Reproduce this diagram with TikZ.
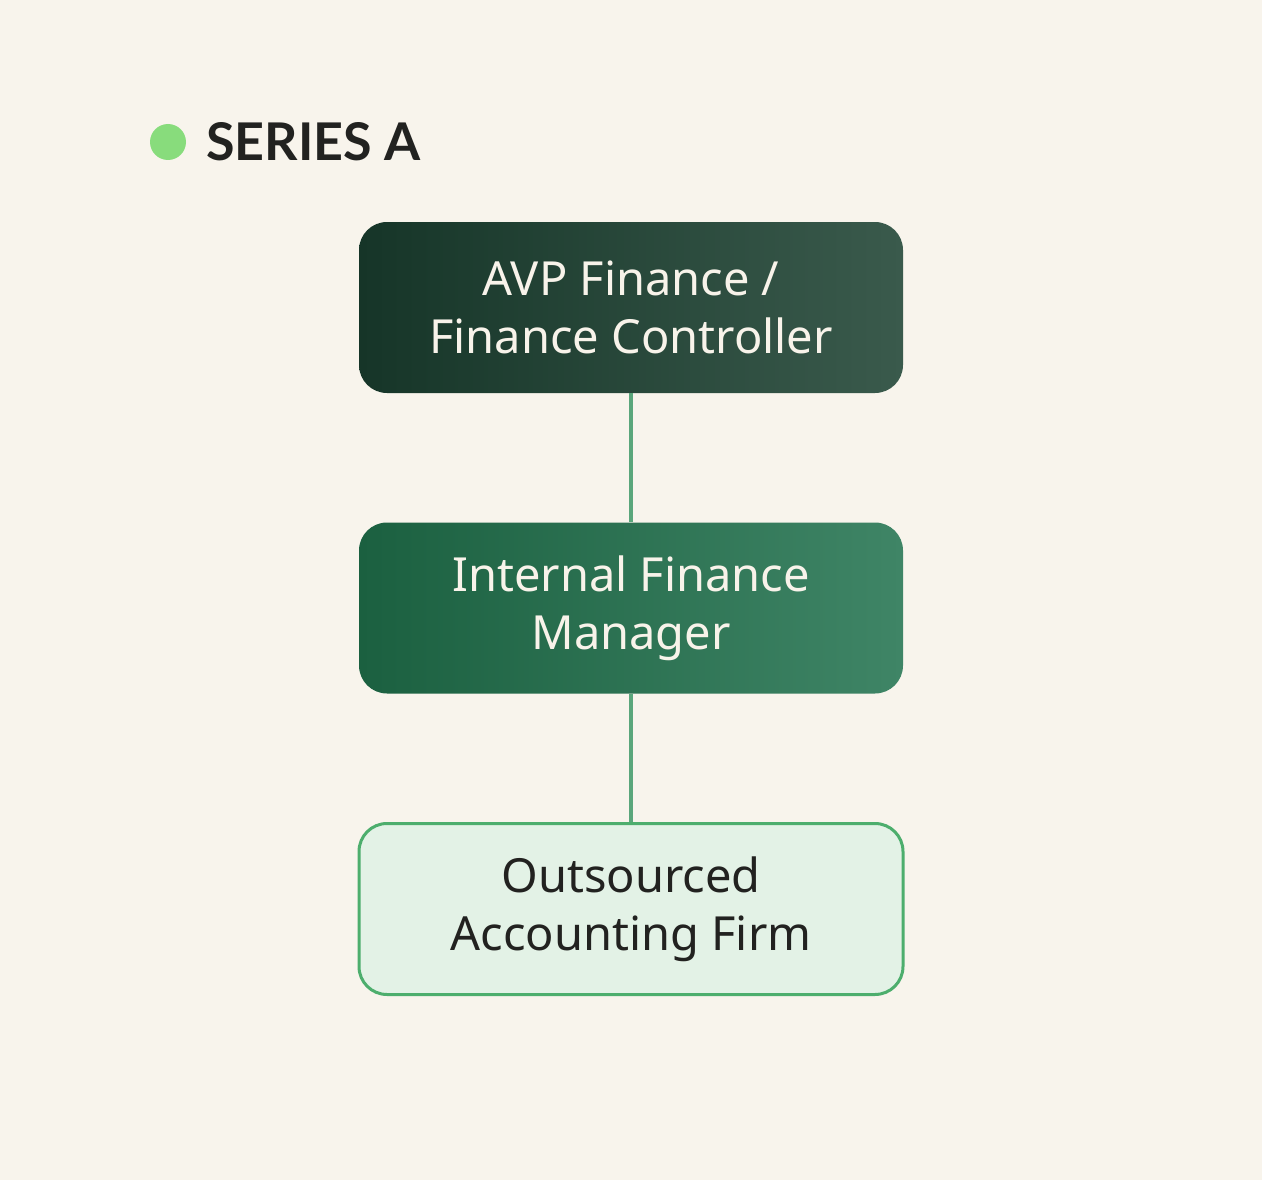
\documentclass[tikz,border=0pt]{standalone}
\usepackage{fontspec}
\setmainfont{Noto Sans}
\newfontfamily\titlefont{Lato}
\definecolor{bg}{HTML}{F8F4EC}
\definecolor{darkA}{HTML}{163528}
\definecolor{darkB}{HTML}{3A5A4C}
\definecolor{midA}{HTML}{1B6040}
\definecolor{midB}{HTML}{3F8566}
\definecolor{lightfill}{HTML}{E3F2E6}
\definecolor{lightedge}{HTML}{4DAE6D}
\definecolor{linkc}{HTML}{5AA67B}
\definecolor{cream}{HTML}{F8F3EA}
\definecolor{inkc}{HTML}{222220}
\definecolor{dotc}{HTML}{88DC7C}
\begin{document}
\begin{tikzpicture}[x=1pt,y=-1pt,
  box/.style={rounded corners=28pt, minimum width=544pt, minimum height=171pt,
    align=center, font=\fontsize{47}{58}\selectfont, inner sep=0pt},
  topbox/.style={box, left color=darkA, right color=darkB, text=cream},
  midbox/.style={box, left color=midA, right color=midB, text=cream},
  lowbox/.style={box, fill=lightfill, draw=lightedge, line width=3pt, text=inkc},
  link/.style={draw=linkc, line width=4pt}]
\fill[bg] (0,0) rectangle (1262,1180);
\useasboundingbox (0,0) rectangle (1262,1180);
\fill[dotc] (168,142) circle (18);
\node[anchor=west, font=\titlefont\fontsize{52}{60}\selectfont\bfseries, text=inkc, inner sep=0pt] (title) at (206,142) {SERIES A};
\node[topbox] (a) at (631,307.5) {AVP Finance /\\Finance Controller};
\node[midbox] (b) at (631,608) {Internal Finance\\Manager};
\node[lowbox] (c) at (631,909) {Outsourced\\Accounting Firm};
\path[link] (a.south) -- (b.north);
\path[link] (b.south) -- (c.north);
\end{tikzpicture}
\end{document}
